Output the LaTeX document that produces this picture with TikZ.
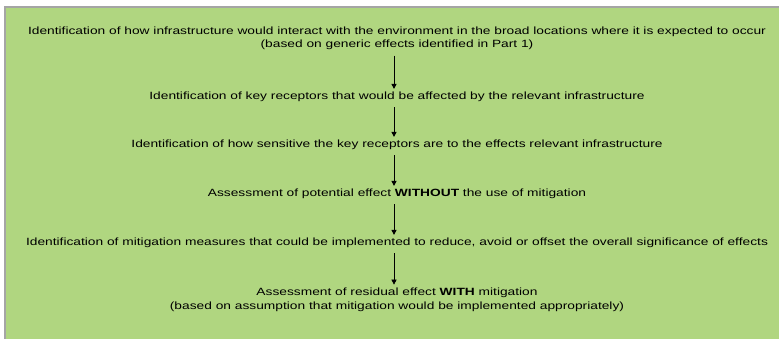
\documentclass[tikz,border=0pt]{standalone}
\usepackage{fontspec}
\setmainfont{Liberation Sans}[FakeStretch=1.31]
\usetikzlibrary{arrows.meta}
\definecolor{boxgreen}{RGB}{176,214,128}
\definecolor{boxedge}{RGB}{165,165,165}
\tikzset{
  steptext/.style={align=center, font=\fontsize{10.5}{13}\selectfont, inner sep=0pt, text=black},
  flowarrow/.style={-{Triangle[length=5pt,width=5pt]}, line width=0.6pt, black}
}
\begin{document}
\begin{tikzpicture}[x=1pt,y=-1pt]
\useasboundingbox (0,0) rectangle (779,338);
\fill[white] (0,0) rectangle (779,338);
\fill[boxgreen] (5,7) rectangle (783,342);
\draw[boxedge, line width=1.5pt] (5,342) -- (5,7) -- (783,7);
\node[steptext] (t1) at (397,38) {Identification of how infrastructure would interact with the environment in the broad locations where it is expected to occur\\(based on generic effects identified in Part 1)};
\node[steptext] (t2) at (397,97) {Identification of key receptors that would be affected by the relevant infrastructure};
\node[steptext] (t3) at (397,145) {Identification of how sensitive the key receptors are to the effects relevant infrastructure};
\node[steptext] (t4) at (397,194) {Assessment of potential effect \textbf{WITHOUT} the use of mitigation};
\node[steptext] (t5) at (397,243) {Identification of mitigation measures that could be implemented to reduce, avoid or offset the overall significance of effects};
\node[steptext, font=\fontsize{10.5}{14.5}\selectfont] (t6) at (397,300) {Assessment of residual effect \textbf{WITH} mitigation\\(based on assumption that mitigation would be implemented appropriately)};
\draw[flowarrow] ([yshift=-6pt]t1.south -| 394,0) -- ([yshift=3pt]t2.north -| 394,0);
\draw[flowarrow] ([yshift=-5pt]t2.south -| 394,0) -- ([yshift=3pt]t3.north -| 394,0);
\draw[flowarrow] ([yshift=-5pt]t3.south -| 394,0) -- ([yshift=3pt]t4.north -| 394,0);
\draw[flowarrow] ([yshift=-5pt]t4.south -| 394,0) -- ([yshift=3pt]t5.north -| 394,0);
\draw[flowarrow] ([yshift=-5pt]t5.south -| 394,0) -- ([yshift=3pt]t6.north -| 394,0);
\end{tikzpicture}
\end{document}
